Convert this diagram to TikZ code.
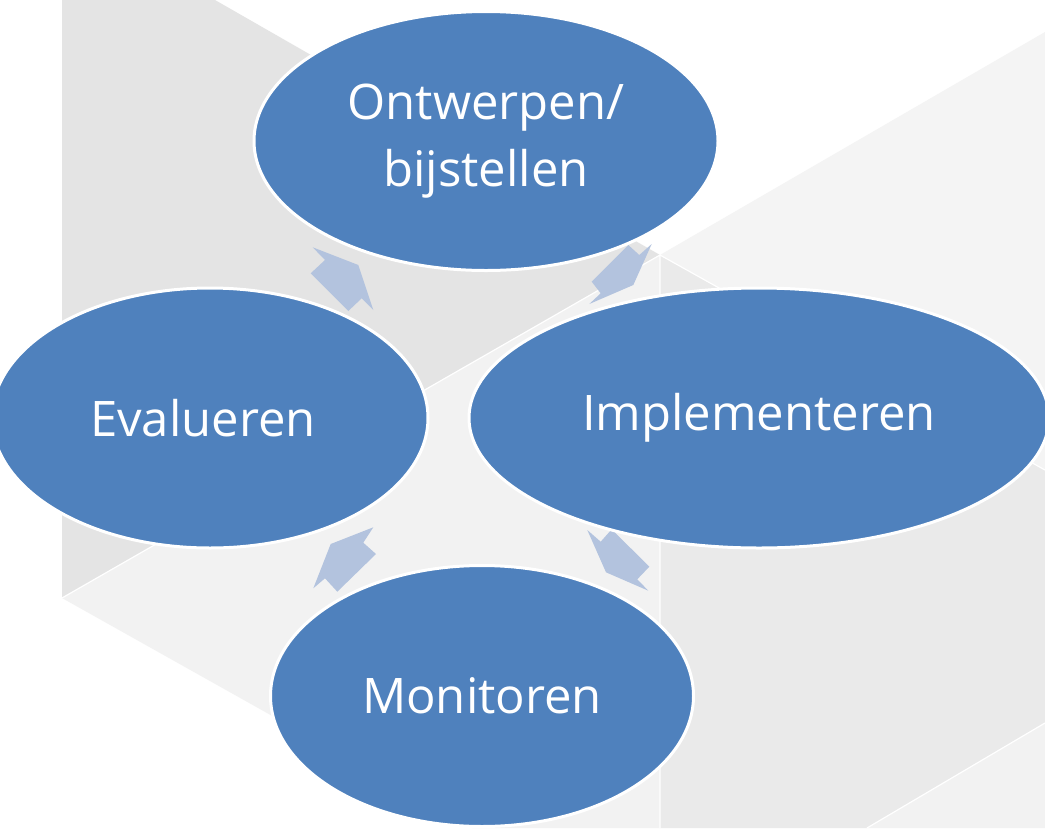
\documentclass[tikz,border=0pt]{standalone}
\usepackage{fontspec}
\setmainfont{Open Sans}
\usetikzlibrary{shapes.geometric}
\definecolor{cyc}{HTML}{4F81BD}
\definecolor{arrowc}{HTML}{B3C3DE}
\definecolor{bgdark}{HTML}{E4E4E4}
\definecolor{bglight}{HTML}{F2F2F2}
\definecolor{bgtop}{HTML}{F4F4F4}
\definecolor{bgmid}{HTML}{EAEAEA}
\begin{document}
\begin{tikzpicture}[x=1pt,y=-1pt,
  cyclenode/.style={ellipse, fill=cyc, draw=white, line width=3pt, inner sep=0pt,
    text=white, font=\fontsize{49}{67}\selectfont, align=center},
  blockarrow/.style={fill=arrowc},
  facesep/.style={draw=white, line width=1.2pt}]
\useasboundingbox (0,0) rectangle (1045,828);
\fill[white] (0,0) rectangle (1045,828);
% background faces
\fill[bgdark] (62,0) -- (215,0) -- (660,255) -- (62,598) -- cycle;
\fill[bglight] (62,598) -- (660,255) -- (660,828) -- (472,828) -- cycle;
\fill[bgtop] (660,255) -- (1045,32) -- (1045,470) -- cycle;
\fill[bgmid] (660,255) -- (1045,470) -- (1045,723) -- (867,828) -- (660,828) -- cycle;
\fill[bglight] (1045,723) -- (1045,828) -- (867,828) -- cycle;
\path[facesep] (62,598) -- (660,255) -- (660,828);
\path[facesep] (660,255) -- (1045,470);
\path[facesep] (1045,723) -- (867,828);
% arrows
\fill[blockarrow] (312.7,247.3) -- (325,260) -- (310.7,273.3) -- (348.3,311) -- (361.7,298.3) -- (373.3,310) -- (358.3,265) -- cycle;
\fill[blockarrow] (628.3,245) -- (639.3,255) -- (651.7,244) -- (633.3,285) -- (589.3,304) -- (600.7,293.3) -- (591.7,281.7) -- cycle;
\fill[blockarrow] (587.3,530) -- (600.7,541.7) -- (611.7,529.3) -- (649.3,566.7) -- (637.3,579.3) -- (648.3,590.7) -- (606,572.3) -- cycle;
\fill[blockarrow] (373.3,527.3) -- (330.7,544) -- (313.3,588.3) -- (325,578.3) -- (337.3,591.7) -- (376,554) -- (363.3,542.7) -- cycle;
% ellipses
\node[cyclenode, minimum width=464pt, minimum height=259pt] (ontw) at (486,141) {Ontwerpen/\\bijstellen};
\node[cyclenode, minimum width=436pt, minimum height=260pt] (eval) at (210,418) {\kern-14pt Evalueren};
\node[cyclenode, minimum width=580pt, minimum height=260pt] (impl) at (759,418) {Implementeren};
\node[cyclenode, minimum width=423pt, minimum height=261pt] (moni) at (482,696) {Monitoren};
\end{tikzpicture}
\end{document}
